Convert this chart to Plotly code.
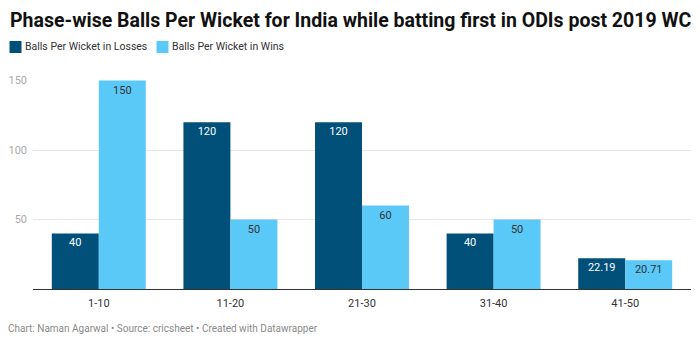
import plotly.graph_objects as go

# Over phases and balls-per-wicket values
phases = ["1-10", "11-20", "21-30", "31-40", "41-50"]
bpw_losses = [40, 120, 120, 40, 22.19]
bpw_wins = [150, 50, 60, 50, 20.71]
loss_labels = ["40", "120", "120", "40", "22.19"]
win_labels = ["150", "50", "60", "50", "20.71"]
y_ticks = [50, 100, 150]

DARK = "#00507a"
LIGHT = "#5bc9f7"
FONT = "Roboto"

W, H = 700, 344
L, R, T, B = 33, 9, 80, 55  # plot margins in px

fig = go.Figure()
fig.add_trace(go.Bar(
    x=phases, y=bpw_losses, name="Balls Per Wicket in Losses",
    marker=dict(color=DARK, line=dict(width=0)),
    text=loss_labels, textposition="inside", insidetextanchor="end",
    textangle=0, textfont=dict(family=FONT, size=11, color="white"),
    hoverinfo="skip",
))
fig.add_trace(go.Bar(
    x=phases, y=bpw_wins, name="Balls Per Wicket in Wins",
    marker=dict(color=LIGHT, line=dict(width=0)),
    text=win_labels, textposition="inside", insidetextanchor="end",
    textangle=0, textfont=dict(family=FONT, size=11, color="#333333"),
    hoverinfo="skip",
))

# Hand-drawn legend (square swatch + label) in pixel-based paper coords
def px_x(px):
    return (px - L) / (W - L - R)

def px_y(py):
    return (H - B - py) / (H - T - B)

legend_items = [("Balls Per Wicket in Losses", DARK, 9.5), ("Balls Per Wicket in Wins", LIGHT, 156.5)]
shapes = []
annotations = []
for label, color, x0 in legend_items:
    shapes.append(dict(type="rect", xref="paper", yref="paper",
                       x0=px_x(x0), x1=px_x(x0 + 12), y0=px_y(53), y1=px_y(41),
                       fillcolor=color, line=dict(width=0), layer="above"))
    annotations.append(dict(xref="paper", yref="paper", x=px_x(x0 + 13), y=px_y(47),
                            text=label, showarrow=False, xanchor="left", yanchor="middle",
                            font=dict(family=FONT, size=10.5, color="#333333")))

# Footer credit line
annotations.append(dict(xref="paper", yref="paper", x=px_x(6), y=px_y(328),
                        text="Chart: Naman Agarwal • Source: cricsheet • Created with Datawrapper",
                        showarrow=False, xanchor="left", yanchor="middle",
                        font=dict(family=FONT, size=10, color="#8a8a8a")))

fig.update_layout(
    width=W, height=H,
    margin=dict(l=L, r=R, t=T, b=B, pad=0),
    paper_bgcolor="white", plot_bgcolor="white",
    showlegend=False,
    barmode="group", bargap=0.286, bargroupgap=0,
    title=dict(text="<b>Phase-wise Balls Per Wicket for India while batting first in ODIs post 2019 WC</b>",
               x=10 / W, xanchor="left",
               y=1 - 20 / H, yanchor="middle",
               font=dict(family=FONT, size=19.5, color="#111111")),
    shapes=shapes,
    annotations=annotations,
    font=dict(family=FONT),
    uniformtext=dict(minsize=11, mode="show"),
)
fig.update_yaxes(range=[0, 150.4], tickvals=y_ticks, ticktext=[str(v) for v in y_ticks],
                 showgrid=True, gridcolor="#e6e6e6", gridwidth=1,
                 zeroline=False, showline=False, ticks="",
                 tickfont=dict(family=FONT, size=11, color="#aaaaaa"), ticklabelstandoff=5)
fig.update_xaxes(showline=True, linecolor="#333333", linewidth=1, ticks="",
                 tickfont=dict(family=FONT, size=11, color="#333333"), ticklabelstandoff=4)

fig.write_html("out.html")
